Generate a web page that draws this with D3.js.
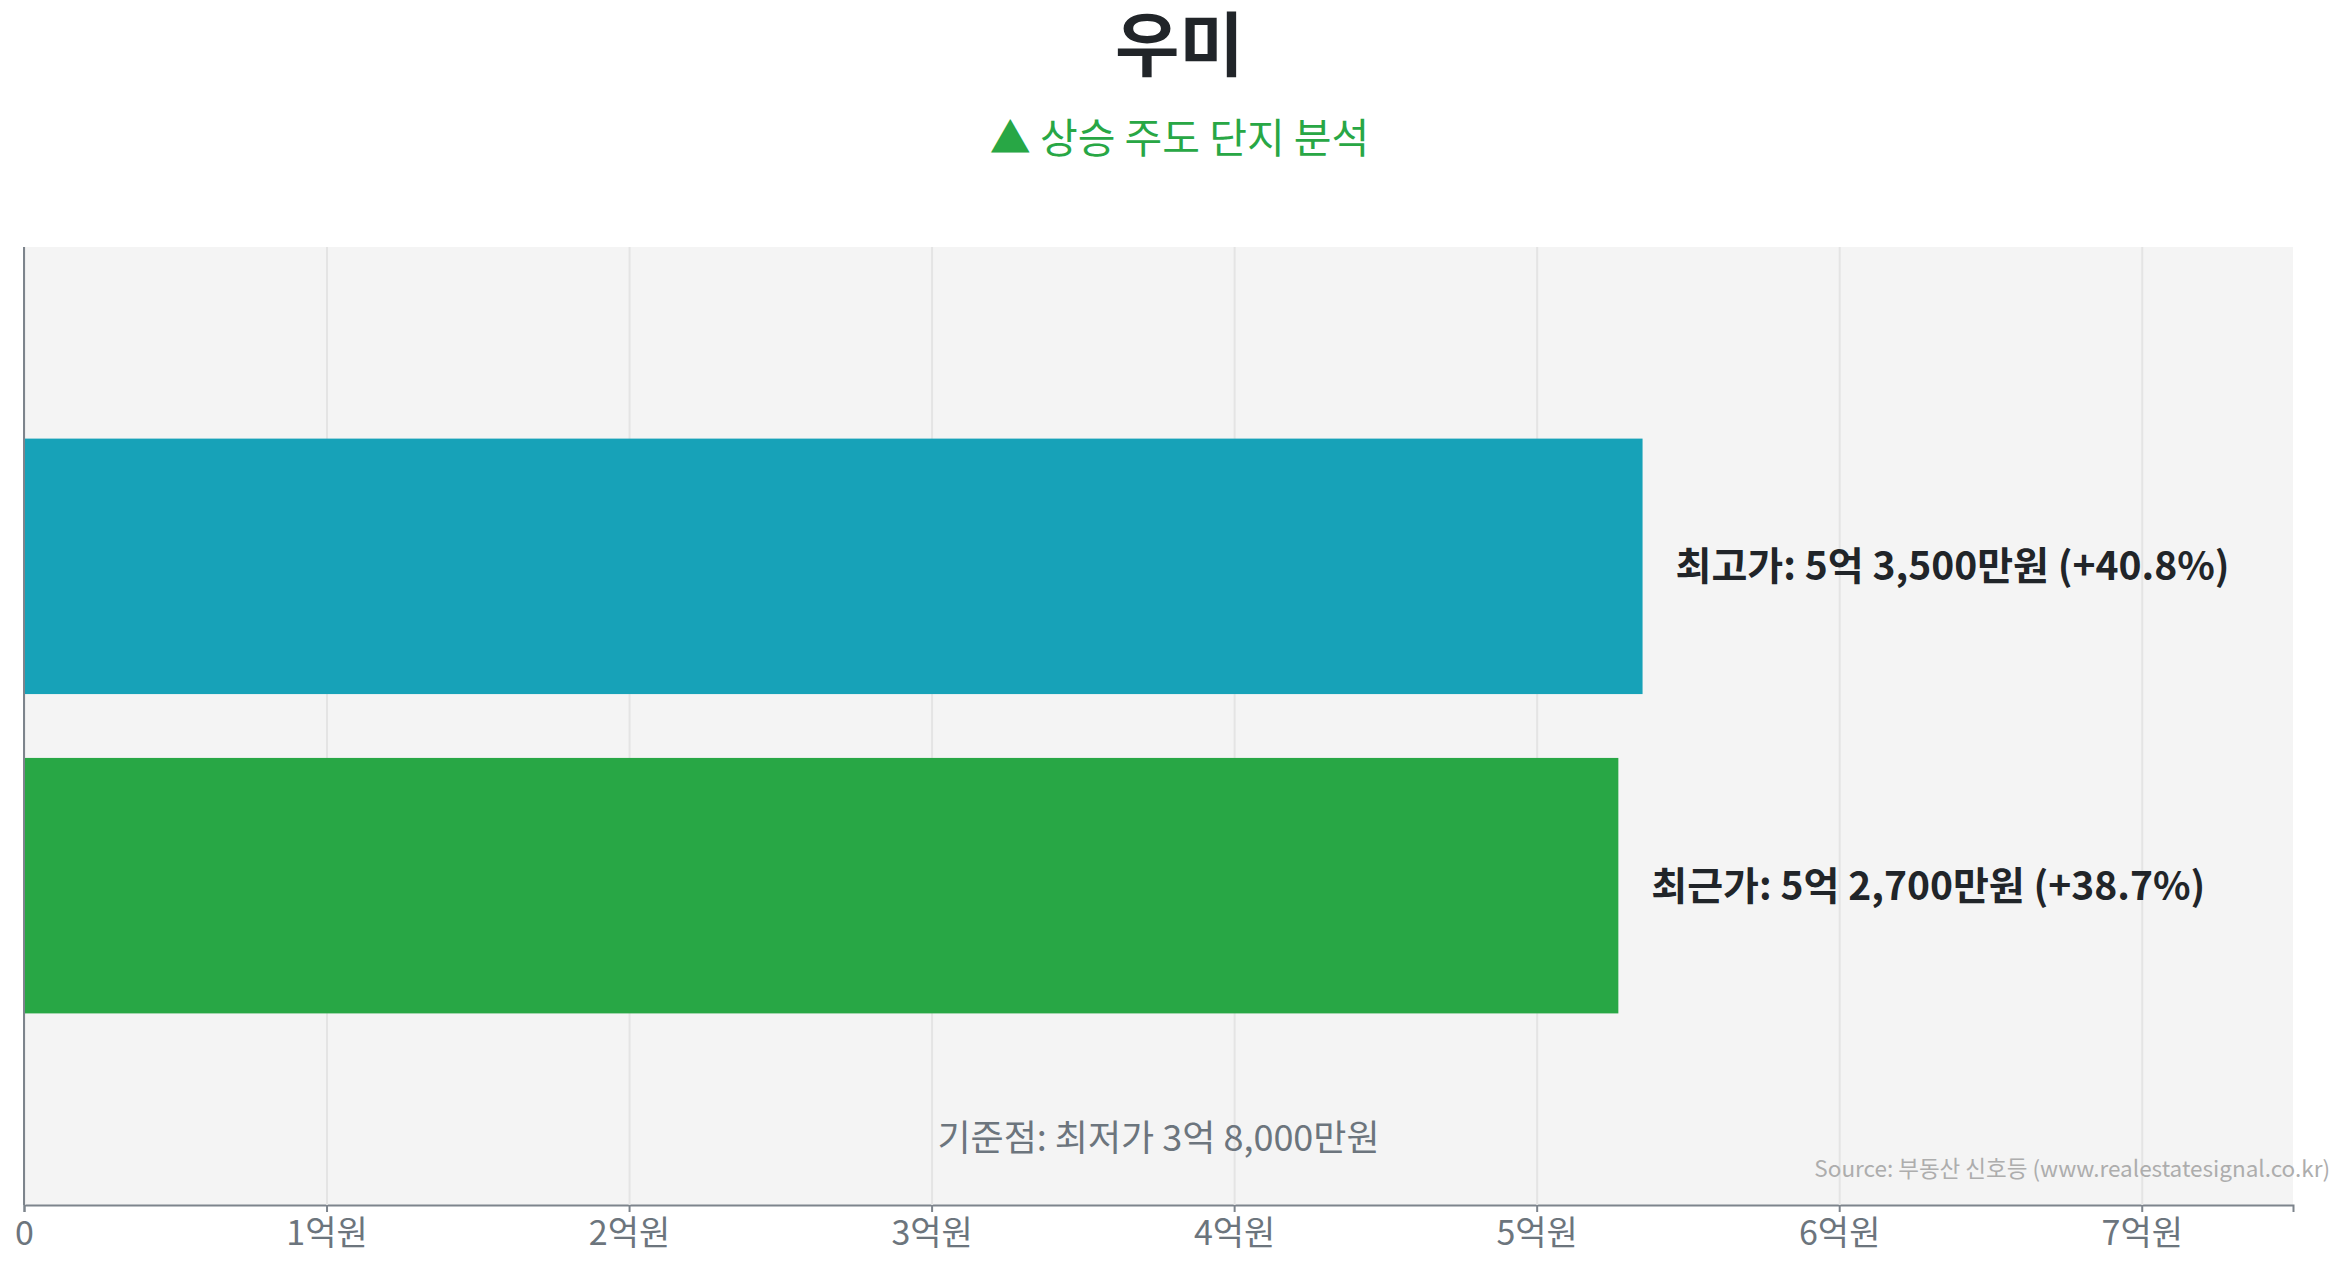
<!DOCTYPE html>
<html>
<head>
<meta charset="utf-8">
<script src="https://cdn.jsdelivr.net/npm/d3@7"></script>
<style>
  html, body { margin: 0; padding: 0; background: #fff; }
  svg { display: block; font-family: "Noto Sans CJK KR", "Noto Sans", sans-serif; }
</style>
</head>
<body>
<svg id="chart"></svg>
<script>
// values in 만원
const categories = ["최고가", "최근가"];
const prices = [53500, 52700];
const changes = [40.8, 38.7];
const barColors = ["#17a2b8", "#28a745"];
const basePrice = 38000;
const tickValues = [0, 10000, 20000, 30000, 40000, 50000, 60000, 70000];
const tickLabels = ["0", "1억원", "2억원", "3억원", "4억원", "5억원", "6억원", "7억원"];
const xMax = 75000;

const width = 2345, height = 1268;
const margin = { top: 247, right: 52, bottom: 63, left: 24 };

const svg = d3.select("#chart")
  .attr("width", width)
  .attr("height", height);

const x = d3.scaleLinear()
  .domain([0, xMax])
  .range([margin.left, width - margin.right]);

const y = d3.scaleBand()
  .domain(categories)
  .range([margin.top, height - margin.bottom])
  .paddingInner(0.2)
  .paddingOuter(0.6);

const fmt = d3.format(",");
function formatPrice(v) {
  const eok = Math.floor(v / 10000);
  const man = v % 10000;
  return `${eok}억 ${fmt(man)}만원`;
}

// plot background
svg.append("rect")
  .attr("x", x(0))
  .attr("y", margin.top)
  .attr("width", x(xMax) - x(0))
  .attr("height", height - margin.bottom - margin.top)
  .attr("fill", "#f4f4f4");

// x axis + grid
svg.append("g")
  .attr("transform", `translate(0,${height - margin.bottom})`)
  .call(d3.axisBottom(x)
    .tickValues(tickValues)
    .tickFormat((d, i) => tickLabels[i])
    .tickSizeOuter(0)
    .tickSize(7)
    .tickPadding(9))
  .call(g => g.select(".domain").attr("stroke", "#7d848c").attr("stroke-width", 2))
  .call(g => g.selectAll(".tick line").attr("stroke", "#7d848c").attr("stroke-width", 2))
  .call(g => g.selectAll(".tick line").clone()
    .attr("y2", -(height - margin.bottom - margin.top))
    .attr("stroke", "#e4e4e4")
    .attr("stroke-width", 2))
  .call(g => g.selectAll(".tick text")
    .attr("fill", "#6c757d")
    .attr("font-size", 34)
    .attr("font-family", "Noto Sans CJK KR"));

// left axis line
svg.append("line")
  .attr("x1", x(0)).attr("x2", x(0))
  .attr("y1", margin.top).attr("y2", height - margin.bottom)
  .attr("stroke", "#7d848c")
  .attr("stroke-width", 2);

// bars
svg.selectAll(".bar")
  .data(categories)
  .join("rect")
  .attr("class", "bar")
  .attr("x", x(0) + 1)
  .attr("y", d => y(d))
  .attr("width", (d, i) => x(prices[i]) - x(0) - 1)
  .attr("height", y.bandwidth())
  .attr("fill", (d, i) => barColors[i]);

// bar labels
svg.selectAll(".bar-label")
  .data(categories)
  .join("text")
  .attr("class", "bar-label")
  .attr("x", (d, i) => x(prices[i]) + 33)
  .attr("y", d => y(d) + y.bandwidth() / 2 - 3)
  .attr("dominant-baseline", "central")
  .attr("font-size", 39)
  .attr("font-weight", "bold")
  .attr("fill", "#212529")
  .text((d, i) => `${d}: ${formatPrice(prices[i])} (+${changes[i]}%)`);

// base price note
svg.append("text")
  .attr("x", (x(0) + x(xMax)) / 2)
  .attr("y", 1135)
  .attr("text-anchor", "middle")
  .attr("dominant-baseline", "central")
  .attr("font-size", 36)
  .attr("fill", "#6c757d")
  .text(`기준점: 최저가 ${formatPrice(basePrice)}`);

// source
svg.append("text")
  .attr("x", 2330)
  .attr("y", 1167)
  .attr("text-anchor", "end")
  .attr("dominant-baseline", "central")
  .attr("font-size", 22.5)
  .attr("fill", "#adadad")
  .text("Source: 부동산 신호등 (www.realestatesignal.co.kr)");

// title
svg.append("text")
  .attr("x", width / 2 + 7)
  .attr("y", 40)
  .attr("text-anchor", "middle")
  .attr("dominant-baseline", "central")
  .attr("font-size", 70)
  .attr("font-weight", "bold")
  .attr("fill", "#212529")
  .text("우미");

svg.append("text")
  .attr("x", width / 2 + 7)
  .attr("y", 135)
  .attr("text-anchor", "middle")
  .attr("dominant-baseline", "central")
  .attr("font-size", 41)
  .attr("fill", "#28a745")
  .text("▲ 상승 주도 단지 분석");
</script>
</body>
</html>
